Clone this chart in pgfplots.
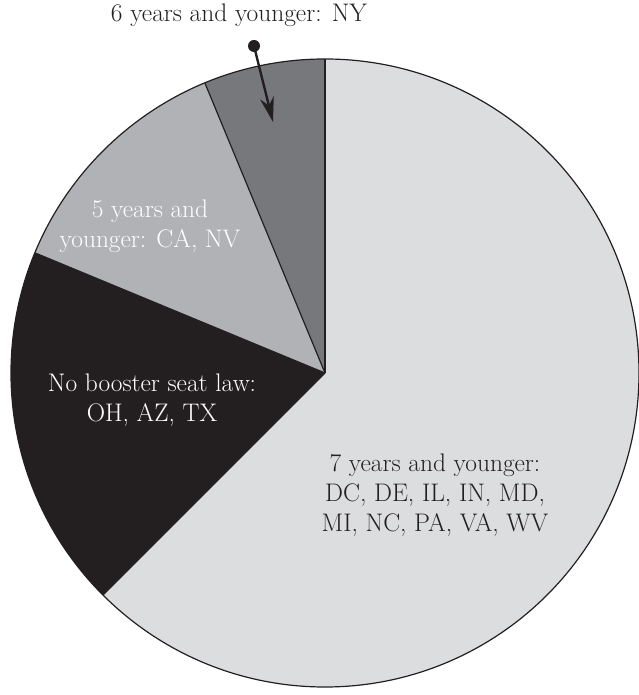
\documentclass[border=0pt]{standalone}
\usepackage{pgfplots}
\pgfplotsset{compat=1.18}
\usepackage{fontspec}
\usetikzlibrary{arrows.meta}
\definecolor{cSeven}{HTML}{DCDDDF}
\definecolor{cSix}{HTML}{77787B}
\definecolor{cFive}{HTML}{B1B2B5}
\definecolor{cNone}{HTML}{231F20}
% counts of states per category (clockwise from top)
\def\vSeven{10}
\def\vNone{3}
\def\vFive{2}
\def\vSix{1}
\def\cx{325}\def\cy{322}\def\rr{314}
\tikzset{lbl/.style={font=\fontsize{25.5}{30}\selectfont,inner sep=0pt}}
\begin{document}
\begin{tikzpicture}
\pgfmathsetmacro{\tot}{\vSeven+\vNone+\vFive+\vSix}
\pgfmathsetmacro{\aA}{90}
\pgfmathsetmacro{\aB}{\aA-360*\vSeven/\tot}
\pgfmathsetmacro{\aC}{\aB-360*\vNone/\tot}
\pgfmathsetmacro{\aD}{\aC-360*\vFive/\tot}
\pgfmathsetmacro{\aE}{\aD-360*\vSix/\tot}
\begin{axis}[x=1bp,y=1bp,xmin=0,xmax=639,ymin=0,ymax=695,hide axis,clip=false]
\coordinate (SW) at (axis cs:0,0);
\coordinate (NE) at (axis cs:639,695);
\fill[cSeven] (axis cs:\cx,\cy) -- ++(\aA:\rr bp) arc[start angle=\aA,end angle=\aB,radius=\rr bp] -- cycle;
\fill[cNone] (axis cs:\cx,\cy) -- ++(\aB:\rr bp) arc[start angle=\aB,end angle=\aC,radius=\rr bp] -- cycle;
\fill[cFive] (axis cs:\cx,\cy) -- ++(\aC:\rr bp) arc[start angle=\aC,end angle=\aD,radius=\rr bp] -- cycle;
\fill[cSix] (axis cs:\cx,\cy) -- ++(\aD:\rr bp) arc[start angle=\aD,end angle=\aE,radius=\rr bp] -- cycle;
\draw[cNone,line width=1.2bp] (axis cs:\cx,\cy) -- ++(\aA:\rr bp);
\draw[cNone,line width=1.2bp] (axis cs:\cx,\cy) -- ++(\aB:\rr bp);
\draw[cNone,line width=1.2bp] (axis cs:\cx,\cy) -- ++(\aC:\rr bp);
\draw[cNone,line width=1.2bp] (axis cs:\cx,\cy) -- ++(\aD:\rr bp);
\draw[cNone,line width=1.2bp] (axis cs:\cx,\cy) circle[radius=\rr bp];
\node[lbl,text=cNone] at (axis cs:239,680) {6 years and younger: NY};
\fill[cNone] (axis cs:254,649) circle[radius=6bp];
\draw[cNone,line width=2.4bp,-{Stealth[length=25bp,width=14bp]}] (axis cs:254,649) -- (axis cs:273,573);
\node[lbl,text=white,align=center] at (axis cs:150,469) {5 years and\\younger: CA, NV};
\node[lbl,text=white,align=center] at (axis cs:152,295) {No booster seat law:\\OH, AZ, TX};
\node[lbl,text=cNone,align=center] at (axis cs:435,200) {7 years and younger:\\DC, DE, IL, IN, MD,\\MI, NC, PA, VA, WV};
\end{axis}
\pgfresetboundingbox
\path (SW) rectangle (NE);
\end{tikzpicture}
\end{document}
